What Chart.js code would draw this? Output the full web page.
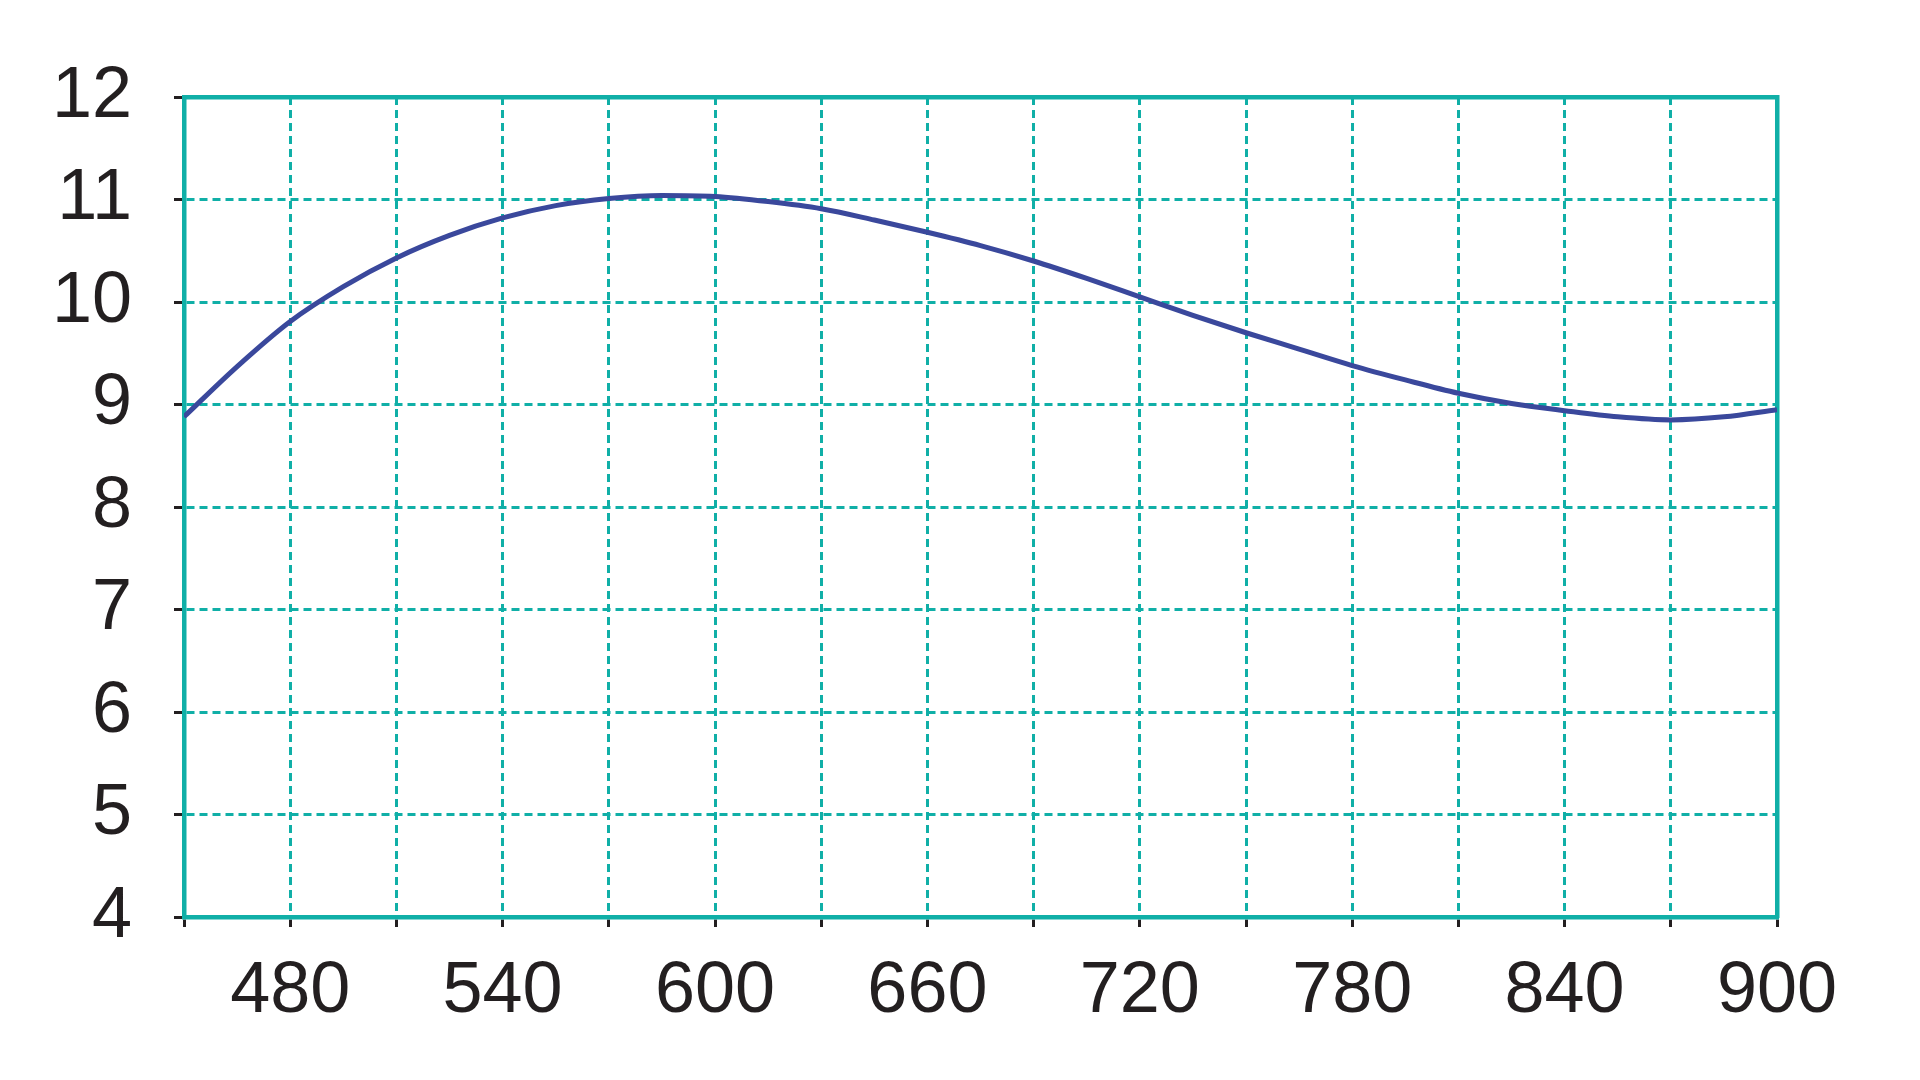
<!DOCTYPE html>
<html lang="en">
<head>
    <meta charset="UTF-8">
    <title>Curve chart</title>
    <script src="https://cdn.jsdelivr.net/npm/chart.js"></script>
    <style>
        html, body {
            margin: 0;
            padding: 0;
            background: #ffffff;
        }
        #wrap {
            width: 1920px;
            height: 1080px;
        }
    </style>
</head>
<body>

<div id="wrap">
    <canvas id="grafico" width="1920" height="1080"></canvas>
</div>

<script>
    // data
    const xValues = [450, 465, 480, 495, 510, 525, 540, 555, 570, 585, 600, 615, 630, 645, 660, 675,
                     690, 705, 720, 735, 750, 765, 780, 795, 810, 825, 840, 855, 870, 885, 900];
    const yValues = [8.88, 9.37, 9.81, 10.15, 10.43, 10.65, 10.82, 10.94, 11.01, 11.04, 11.03, 10.98, 10.91, 10.80, 10.68, 10.55,
                     10.40, 10.23, 10.05, 9.87, 9.70, 9.54, 9.38, 9.24, 9.11, 9.01, 8.94, 8.88, 8.85, 8.88, 8.95];
    const xLabels = [480, 540, 600, 660, 720, 780, 840, 900];
    const yLabels = [4, 5, 6, 7, 8, 9, 10, 11, 12];

    const teal = '#10afa7';
    const ink = '#231f20';
    const fontFam = "'Liberation Sans', Arial, sans-serif";

    const points = xValues.map((x, i) => ({ x: x, y: yValues[i] }));

    const ctx = document.getElementById('grafico').getContext('2d');
    new Chart(ctx, {
        type: 'line',
        data: {
            datasets: [{
                data: points,
                borderColor: '#3a489c',
                borderWidth: 5,
                pointRadius: 0,
                cubicInterpolationMode: 'monotone',
                fill: false
            }]
        },
        options: {
            responsive: false,
            animation: false,
            plugins: {
                legend: { display: false },
                tooltip: { enabled: false }
            },
            layout: {
                padding: { top: 97, right: 143, left: 0, bottom: 0 }
            },
            scales: {
                x: {
                    type: 'linear',
                    position: 'bottom',
                    min: 450,
                    max: 900,
                    afterFit: (s) => { s.height = 163; },
                    ticks: {
                        stepSize: 30,
                        autoSkip: false,
                        maxRotation: 0,
                        padding: 22,
                        color: ink,
                        font: { family: fontFam, size: 72 },
                        callback: (v) => xLabels.includes(v) ? String(v) : ''
                    },
                    grid: {
                        color: teal,
                        lineWidth: 3,
                        tickColor: ink,
                        tickLength: 10,
                        tickWidth: 3
                    },
                    border: { color: teal, width: 4.5, dash: [8, 5] }
                },
                y: {
                    type: 'linear',
                    position: 'left',
                    min: 4,
                    max: 12,
                    afterFit: (s) => { s.width = 184; },
                    ticks: {
                        stepSize: 1,
                        padding: 42,
                        color: ink,
                        font: { family: fontFam, size: 72 },
                        callback: (v) => yLabels.includes(v) ? String(v) : ''
                    },
                    grid: {
                        color: teal,
                        lineWidth: 3,
                        tickColor: ink,
                        tickLength: 10,
                        tickWidth: 3
                    },
                    border: { color: teal, width: 4.5, dash: [8, 5] }
                },
                // frame on the top and right side
                xTop: {
                    type: 'linear',
                    position: 'top',
                    min: 450,
                    max: 900,
                    afterFit: (s) => { s.height = 0; },
                    ticks: { display: false },
                    grid: { display: false },
                    border: { display: true, color: teal, width: 4.5 }
                },
                yRight: {
                    type: 'linear',
                    position: 'right',
                    min: 4,
                    max: 12,
                    afterFit: (s) => { s.width = 0; },
                    ticks: { display: false },
                    grid: { display: false },
                    border: { display: true, color: teal, width: 4.5 }
                }
            }
        }
    });
</script>

</body>
</html>
